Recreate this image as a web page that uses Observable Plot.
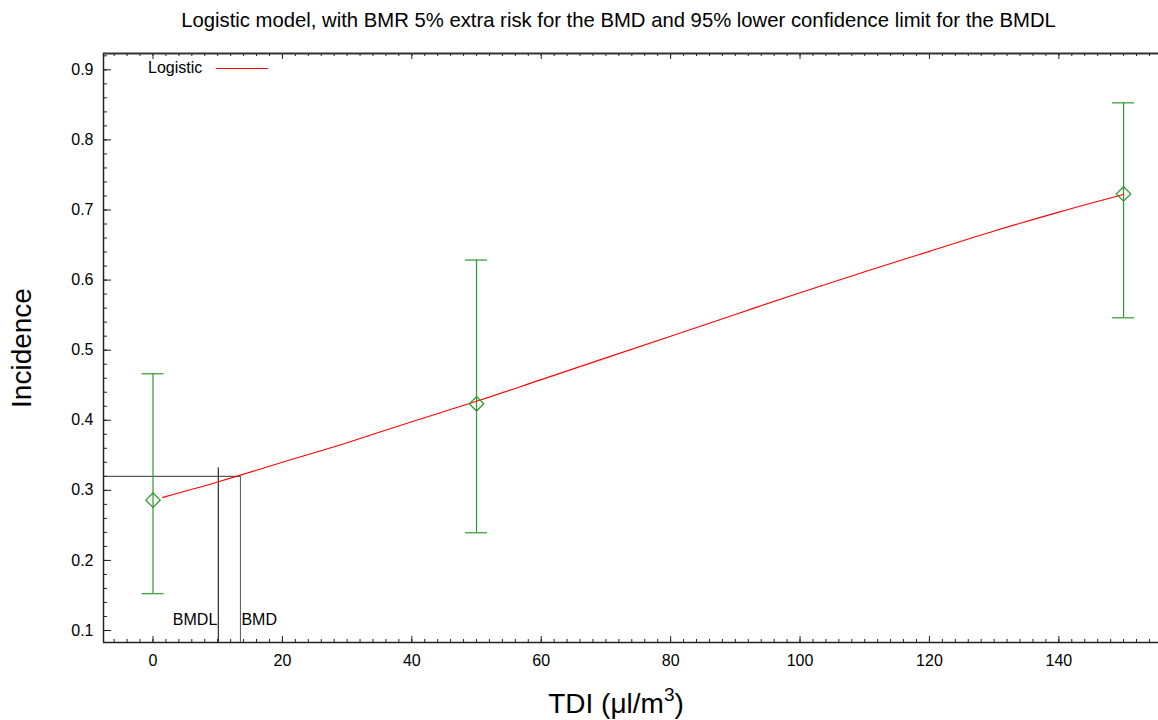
<!DOCTYPE html>
<html><head><meta charset="utf-8">
<script src="https://cdn.jsdelivr.net/npm/d3@7"></script>
<script src="https://cdn.jsdelivr.net/npm/@observablehq/plot@0.6"></script>
<style>
body{margin:0;background:#fff;font-family:"Liberation Sans",Arial,sans-serif;}
#wrap{position:relative;width:1158px;height:720px;}
#title{height:40px;line-height:40px;font-size:20.3px;text-align:center;padding-left:79px;width:1079px;color:#000;white-space:nowrap;}
.ov{position:absolute;white-space:nowrap;color:#000;}
#legtext{left:148px;top:59px;font-size:16px;line-height:18px;}
#legline{left:216px;top:68px;width:52px;height:0;border-top:1px solid red;}
#xtitle{left:416px;width:400px;top:686px;height:36px;line-height:36px;text-align:center;font-size:28px;}
#xtitle sup{font-size:19px;line-height:0;position:relative;top:-2px;vertical-align:super;}
#ytitle{left:-178px;top:330px;width:400px;height:36px;line-height:36px;text-align:center;font-size:28px;transform:rotate(-90deg);transform-origin:200px 18px;}
</style>
</head><body>
<div id="wrap">
<div id="title">Logistic model, with BMR 5% extra risk for the BMD and 95% lower confidence limit for the BMDL</div>
<div id="chart"></div>
<div class="ov" id="legtext">Logistic</div>
<div class="ov" id="legline"></div>
<div class="ov" id="xtitle">TDI (μl/m<sup>3</sup>)</div>
<div class="ov" id="ytitle">Incidence</div>
</div>
<script>
// Observed data
const doses = [0, 50, 150];
const incidence = [0.286, 0.4235, 0.723];
const lowerCI = [0.1525, 0.2395, 0.5462];
const upperCI = [0.4663, 0.6286, 0.8529];

// Fitted logistic curve
const curveDose = [1.5, 10, 20, 30, 40, 50, 60, 70, 80, 90, 100, 110, 120, 130, 140, 150];
const curveInc = [0.290, 0.312, 0.340, 0.368, 0.398, 0.427, 0.458, 0.489, 0.520, 0.551, 0.582, 0.612, 0.641, 0.670, 0.697, 0.722];

// BMD / BMDL
const bmdValue = [13.51];
const bmdlValue = [10.09];
const bmrLevel = [0.32];
const bmdlTop = [0.332];

// Axes
const xDomain = [-7.65, 155.4];
const yDomain = [0.0829, 0.9233];
const xMajor = [0, 20, 40, 60, 80, 100, 120, 140];
const yMajor = [0.1, 0.2, 0.3, 0.4, 0.5, 0.6, 0.7, 0.8, 0.9];
const xMinor = d3.range(-6, 155, 2);
const yMinor = d3.range(10, 93, 2).map(d => d / 100);

const obs = doses.map((d, i) => ({dose: d, inc: incidence[i], lo: lowerCI[i], hi: upperCI[i]}));
const curve = curveDose.map((d, i) => ({dose: d, inc: curveInc[i]}));

const W = 1158, H = 680, mT = 13, mB = 78, mL = 103, mR = 0;
const iH = H - mT - mB, iW = W - mL - mR;
const green = "#2e9a2e";
const axisCol = "#222";

const chart = Plot.plot({
  width: W, height: H,
  marginTop: mT, marginBottom: mB, marginLeft: mL, marginRight: mR,
  x: {domain: xDomain},
  y: {domain: yDomain},
  style: {fontFamily: "'Liberation Sans', Arial, sans-serif", background: "#fff", color: "#000"},
  marks: [
    // tick marks (inward)
    Plot.tickX(xMinor, {x: d => d, insetTop: iH - 3, stroke: axisCol}),
    Plot.tickX(xMajor, {x: d => d, insetTop: iH - 6, stroke: axisCol}),
    Plot.tickX(xMinor, {x: d => d, insetBottom: iH - 3, stroke: axisCol}),
    Plot.tickX(xMajor, {x: d => d, insetBottom: iH - 6, stroke: axisCol}),
    Plot.tickY(yMinor, {y: d => d, insetRight: iW - 4, stroke: axisCol}),
    Plot.tickY(yMajor, {y: d => d, insetRight: iW - 8, stroke: axisCol}),
    // tick labels
    Plot.axisX({ticks: xMajor, tickSize: 0, tickPadding: 12, fontSize: 16, label: null, tickFormat: d3.format("d")}),
    Plot.axisY({ticks: yMajor, tickSize: 0, tickPadding: 10, fontSize: 16, label: null, tickFormat: d3.format(".1f")}),
    // frame (top, bottom, left)
    Plot.ruleY([yDomain[1]], {stroke: "#333", strokeWidth: 2}),
    Plot.ruleY([yDomain[0]], {stroke: "#222", strokeWidth: 1.5}),
    Plot.ruleX([xDomain[0]], {stroke: "#222", strokeWidth: 1.5}),
    // BMD lines
    Plot.ruleY(bmrLevel, {y: d => d, x1: xDomain[0], x2: bmdValue[0], stroke: "#333"}),
    Plot.ruleX(bmdValue, {x: d => d, y1: yDomain[0], y2: bmrLevel[0], stroke: "#555"}),
    Plot.ruleX(bmdlValue, {x: d => d, y1: yDomain[0], y2: bmdlTop[0], stroke: "#000"}),
    Plot.text(bmdlValue, {x: d => d, frameAnchor: "bottom", dy: -18, text: () => "BMDL", textAnchor: "end", dx: -1, fontSize: 16}),
    Plot.text(bmdValue, {x: d => d, frameAnchor: "bottom", dy: -18, text: () => "BMD", textAnchor: "start", dx: 1, fontSize: 16}),
    // error bars
    Plot.ruleX(obs, {x: "dose", y1: "lo", y2: "hi", stroke: green, strokeWidth: 1.2}),
    Plot.ruleY(obs, {y: "hi", x1: "dose", x2: "dose", insetLeft: -11, insetRight: -11, stroke: green, strokeWidth: 1.2}),
    Plot.ruleY(obs, {y: "lo", x1: "dose", x2: "dose", insetLeft: -11, insetRight: -11, stroke: green, strokeWidth: 1.2}),
    // fitted curve
    Plot.line(curve, {x: "dose", y: "inc", stroke: "red", strokeWidth: 1.1, curve: "monotone-x"}),
    // observed points
    Plot.dot(obs, {x: "dose", y: "inc", symbol: "diamond2", r: 6.5, stroke: green, fill: "none", strokeWidth: 1.3})
  ]
});
document.getElementById("chart").appendChild(chart);
</script>
</body></html>
